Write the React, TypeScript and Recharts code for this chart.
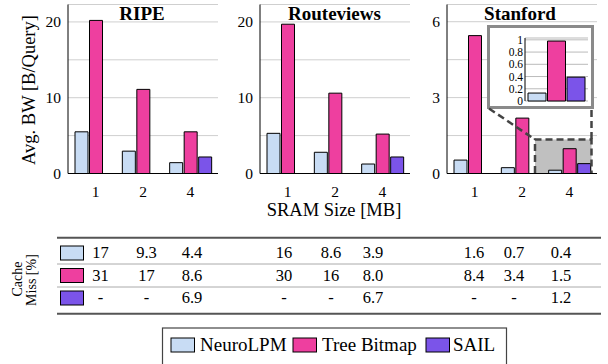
import React from 'react';
import { BarChart, Bar, XAxis, YAxis, CartesianGrid } from 'recharts';

const SERIF = "'Liberation Serif', 'Tinos', 'DejaVu Serif', serif";

const sizes = ['1', '2', '4'];
const ripeNeuro = [5.5, 2.95, 1.43];
const ripeTree = [20.2, 11.1, 5.5];
const ripeSail = [null, null, 2.18];
const rvNeuro = [5.3, 2.8, 1.25];
const rvTree = [19.7, 10.6, 5.2];
const rvSail = [null, null, 2.18];
const stNeuro = [0.53, 0.23, 0.13];
const stTree = [5.45, 2.19, 0.98];
const stSail = [null, null, 0.39];

const panelTitles = ['RIPE', 'Routeviews', 'Stanford'];
const bigTicks = [0, 5, 10, 15, 20];
const bigLabels = [0, 10, 20];
const smallTicks = [0, 1.5, 3, 4.5, 6];
const smallLabels = [0, 3, 6];
const insetTicks = [0, 0.2, 0.4, 0.6, 0.8, 1];

const missNeuro = ['17', '9.3', '4.4', '16', '8.6', '3.9', '1.6', '0.7', '0.4'];
const missTree = ['31', '17', '8.6', '30', '16', '8.0', '8.4', '3.4', '1.5'];
const missSail = ['-', '-', '6.9', '-', '-', '6.7', '-', '-', '1.2'];

const seriesNames = ['NeuroLPM', 'Tree Bitmap', 'SAIL'];
const colors = ['#c8dcf4', '#ee3f9f', '#7b54e9'];

const build = (n: (number | null)[], t: (number | null)[], s: (number | null)[]) =>
  sizes.map((size, i) => ({ size, neuro: n[i], tree: t[i], sail: s[i] }));

const ripeData = build(ripeNeuro, ripeTree, ripeSail);
const rvData = build(rvNeuro, rvTree, rvSail);
const stData = build(stNeuro, stTree, stSail);
const insetData = [{ size: '4', neuro: stNeuro[2], tree: stTree[2], sail: stSail[2] }];

const colX = [100.5, 146.5, 192, 284, 331, 373, 474, 514, 561];
const rowBase = [258.3, 281, 303];
const rowSwatchY = [246, 268.5, 291];

const tickStyle = { fill: '#000', fontSize: 15.5, fontFamily: SERIF };

function Panel({
  left,
  data,
  domain,
  ticks,
  labels,
}: {
  left: number;
  data: any[];
  domain: [number, number];
  ticks: number[];
  labels: number[];
}) {
  return (
    <div style={{ position: 'absolute', left: left - 40, top: 0 }}>
      <BarChart
        width={192}
        height={200}
        data={data}
        margin={{ top: 4.5, right: 2, bottom: 0.5, left: 0 }}
        barCategoryGap={3}
        barGap={1.5}
      >
        <CartesianGrid vertical={false} stroke="#cfcfcf" />
        <XAxis
          dataKey="size"
          padding={{ left: 4, right: 4 }}
          tickLine={false}
          tickSize={0}
          tickMargin={12}
          height={26}
          axisLine={{ stroke: '#000' }}
          tick={tickStyle}
        />
        <XAxis
          xAxisId="top"
          orientation="top"
          dataKey="size"
          height={0}
          tick={false}
          tickLine={false}
          padding={{ left: 4, right: 4 }}
          axisLine={{ stroke: '#000' }}
        />
        <YAxis
          domain={domain}
          ticks={ticks}
          interval={0}
          width={40}
          tickSize={0}
          tickMargin={7}
          tickLine={false}
          axisLine={{ stroke: '#000' }}
          tick={tickStyle}
          tickFormatter={(v: number) => (labels.includes(v) ? String(v) : '')}
        />
        <YAxis
          yAxisId="right"
          orientation="right"
          domain={domain}
          width={0}
          tick={false}
          tickLine={false}
          axisLine={{ stroke: '#000' }}
        />
        <Bar dataKey="neuro" fill={colors[0]} stroke="#000" strokeWidth={1} isAnimationActive={false} />
        <Bar dataKey="tree" fill={colors[1]} stroke="#000" strokeWidth={1} isAnimationActive={false} />
        <Bar dataKey="sail" fill={colors[2]} stroke="#000" strokeWidth={1} isAnimationActive={false} />
      </BarChart>
    </div>
  );
}

function Inset() {
  return (
    <div style={{ position: 'absolute', left: 485, top: 31 }}>
      <BarChart
        width={103}
        height={77}
        data={insetData}
        margin={{ top: 7, right: 0, bottom: 7, left: 0 }}
        barCategoryGap={3}
        barGap={1.5}
      >
        <CartesianGrid vertical={false} stroke="#bbb" />
        <XAxis dataKey="size" height={0} tick={false} tickLine={false} axisLine={{ stroke: '#000' }} />
        <XAxis xAxisId="top" orientation="top" dataKey="size" height={0} tick={false} tickLine={false} axisLine={{ stroke: '#000' }} />
        <YAxis
          domain={[0, 1.03]}
          ticks={insetTicks}
          interval={0}
          width={40}
          tickSize={0}
          tickMargin={2}
          tickLine={false}
          axisLine={{ stroke: '#000' }}
          tick={{ fill: '#000', fontSize: 11.5, fontFamily: SERIF }}
          tickFormatter={(v: number) => String(v)}
        />
        <YAxis yAxisId="right" orientation="right" domain={[0, 1.03]} width={0} tick={false} tickLine={false} axisLine={{ stroke: '#000' }} />
        <Bar dataKey="neuro" fill={colors[0]} stroke="#000" strokeWidth={1} isAnimationActive={false} />
        <Bar dataKey="tree" fill={colors[1]} stroke="#000" strokeWidth={1} isAnimationActive={false} />
        <Bar dataKey="sail" fill={colors[2]} stroke="#000" strokeWidth={1} isAnimationActive={false} />
      </BarChart>
    </div>
  );
}

export default function App() {
  const titleX = [142, 334.5, 520];
  const legendSw = [171, 293, 426];
  const legendTx = [200, 322, 453];
  const missRows = [missNeuro, missTree, missSail];
  return (
    <div
      style={{
        position: 'absolute',
        left: 0,
        top: 0,
        width: 608,
        height: 364,
        background: '#fff',
        fontFamily: SERIF,
        overflow: 'hidden',
      }}
    >
      {/* zoom highlight region behind the Stanford bars */}
      <svg width={608} height={364} style={{ position: 'absolute', left: 0, top: 0 }}>
        <rect x={535} y={139.5} width={56.5} height={34} fill="#c0c0c0" />
      </svg>
      <Panel left={67.5} data={ripeData} domain={[0, 22.3]} ticks={bigTicks} labels={bigLabels} />
      <Panel left={260} data={rvData} domain={[0, 22.3]} ticks={bigTicks} labels={bigLabels} />
      <Panel left={447} data={stData} domain={[0, 6.68]} ticks={smallTicks} labels={smallLabels} />
      <div
        style={{
          position: 'absolute',
          left: 487,
          top: 25,
          width: 107,
          height: 84,
          boxSizing: 'border-box',
          border: '3px solid #8a8a8a',
          background: '#fff',
        }}
      />
      <Inset />
      <svg
        width={608}
        height={364}
        style={{ position: 'absolute', left: 0, top: 0, pointerEvents: 'none' }}
        fontFamily={SERIF}
      >
        {/* zoom outline and connectors */}
        <path
          d="M535,173 L535,139.5 L591.5,139.5 L591.5,173"
          fill="none"
          stroke="#444"
          strokeWidth={2.5}
          strokeDasharray="7 4"
        />
        <line x1={489} y1={108.5} x2={535} y2={139.5} stroke="#444" strokeWidth={2.5} strokeDasharray="7 4" />
        <line x1={591.5} y1={110} x2={591.5} y2={139.5} stroke="#444" strokeWidth={2.5} strokeDasharray="7 4" />

        {panelTitles.map((t, i) => (
          <text key={t} x={titleX[i]} y={19.5} textAnchor="middle" fontSize={19} fontWeight="bold" fill="#000">
            {t}
          </text>
        ))}
        <text x={35} y={90} textAnchor="middle" fontSize={18.5} fill="#000" transform="rotate(-90 35 90)">
          Avg. BW [B/Query]
        </text>
        <text x={334} y={215.5} textAnchor="middle" fontSize={18.5} fill="#000">
          SRAM Size [MB]
        </text>

        {/* table */}
        <line x1={57} y1={237.7} x2={601} y2={237.7} stroke="#555" strokeWidth={2} />
        <line x1={57} y1={264} x2={601} y2={264} stroke="#aaa" strokeWidth={1} />
        <line x1={57} y1={287} x2={601} y2={287} stroke="#aaa" strokeWidth={1} />
        <line x1={57} y1={313.7} x2={601} y2={313.7} stroke="#555" strokeWidth={2} />
        <text fontSize={14} fill="#000" textAnchor="middle" transform="rotate(-90 21.5 279)">
          <tspan x={21.5} y={279}>Cache</tspan>
        </text>
        <text fontSize={14} fill="#000" textAnchor="middle" transform="rotate(-90 35.5 280)">
          <tspan x={35.5} y={280}>Miss [%]</tspan>
        </text>
        {missRows.map((row, r) => (
          <g key={r}>
            <rect x={60.5} y={rowSwatchY[r]} width={23} height={14} fill={colors[r]} stroke="#000" strokeWidth={1} />
            {row.map((v, c) => (
              <text key={c} x={colX[c]} y={rowBase[r]} textAnchor="middle" fontSize={16.5} fill="#000">
                {v}
              </text>
            ))}
          </g>
        ))}

        {/* legend */}
        <rect x={162.5} y={328} width={344} height={50} fill="none" stroke="#444" strokeWidth={1.2} />
        {seriesNames.map((n, i) => (
          <g key={n}>
            <rect x={legendSw[i]} y={338} width={23.5} height={14} fill={colors[i]} stroke="#000" strokeWidth={1} />
            <text x={legendTx[i]} y={351} fontSize={19} fill="#000">
              {n}
            </text>
          </g>
        ))}
      </svg>
    </div>
  );
}
